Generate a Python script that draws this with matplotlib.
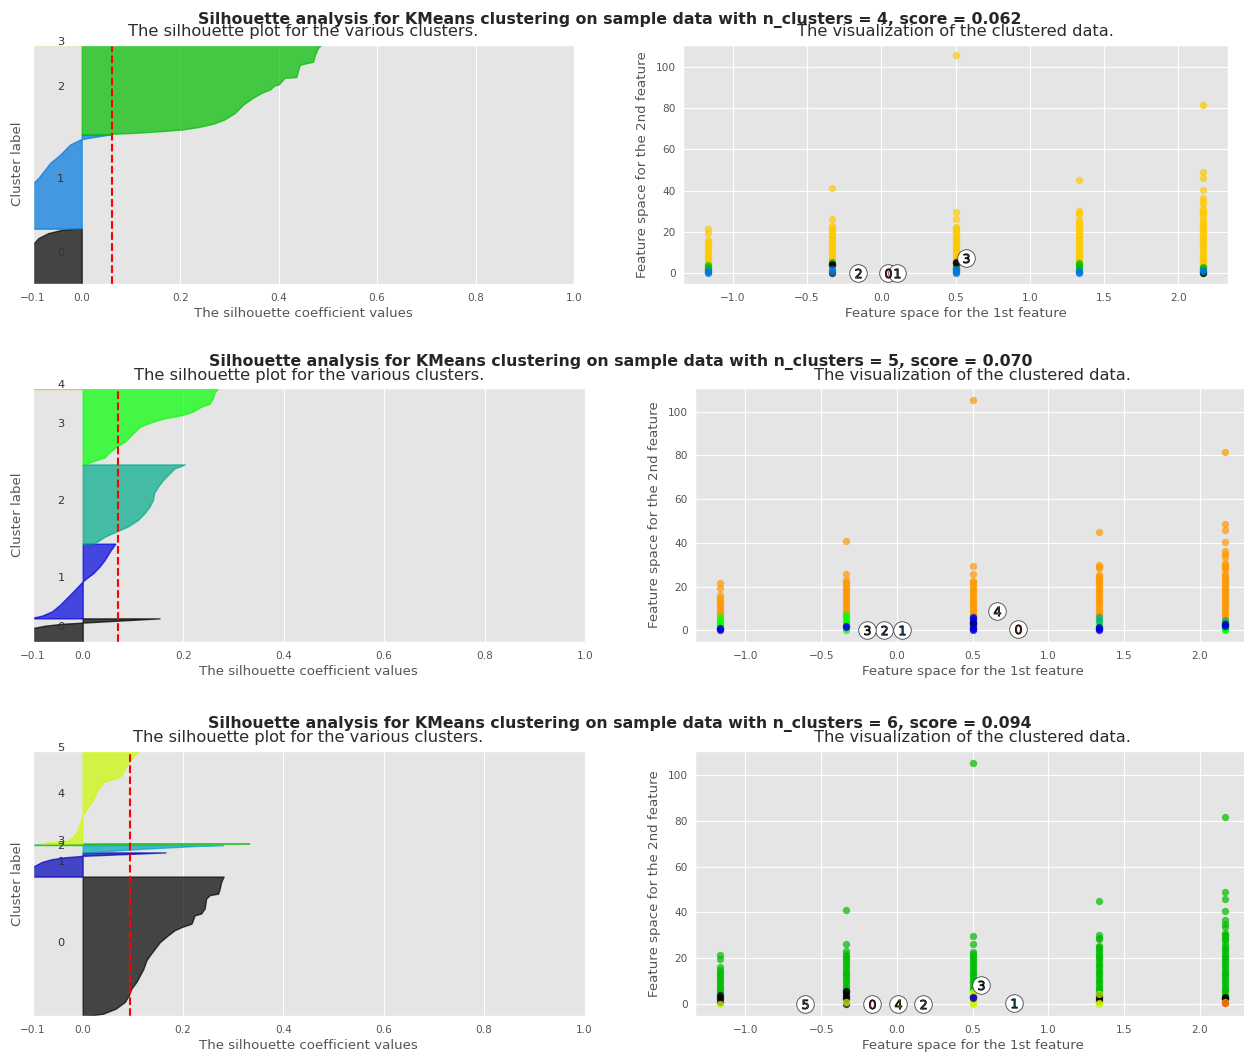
import matplotlib
matplotlib.use("Agg")
import matplotlib.pyplot as plt
from matplotlib import cm
import numpy as np

plt.style.use("ggplot")
plt.rcParams["font.family"] = ["DejaVu Sans"]

W, H = 1244, 1055

# ---------------------------------------------------------------- data
N_CLUSTERS = [4, 5, 6]
SCORES = [0.062, 0.070, 0.094]
SIL_XTICKS = [-0.1, 0, 0.2, 0.4, 0.6, 0.8, 1]
X_LEVELS = [-1.167, -0.333, 0.5, 1.333, 2.167]   # values of the 1st feature

# silhouette profiles: cluster sizes (share of samples, per mille),
# position inside the cluster (0 = bottom, 1 = top) and silhouette value
k4_sizes = [231, 393, 373, 3]
k4_rank = [
    [0, 0.71, 0.83, 0.92, 0.98, 1.0],
    [0, 0.478, 0.539, 0.70, 0.786, 0.893, 0.947, 0.964, 0.992, 1.0],
    [0, 0.008, 0.019, 0.038, 0.056, 0.083, 0.121, 0.169, 0.241, 0.335, 0.402, 0.466,
     0.504, 0.550, 0.560, 0.635, 0.643, 0.710, 0.782, 0.815, 0.895, 0.970, 1.0],
    [0, 1.0],
]
k4_sil = [
    [-0.14, -0.10, -0.088, -0.068, -0.04, -0.005],
    [-0.25, -0.10, -0.088, -0.064, -0.044, -0.024, -0.003, 0.013, 0.047, 0.057],
    [0.057, 0.061, 0.108, 0.162, 0.203, 0.236, 0.267, 0.29, 0.311, 0.328, 0.345, 0.365,
     0.382, 0.392, 0.40, 0.412, 0.436, 0.439, 0.443, 0.47, 0.474, 0.48, 0.486],
    [-0.15, -0.15],
]

k5_sizes = [93, 294, 312, 298, 3]
k5_rank = [
    [0, 0.59, 0.69, 0.77, 0.82, 1.0],
    [0, 0.01, 0.037, 0.095, 0.184, 0.34, 0.495, 0.54, 0.605, 0.697, 0.786, 0.895, 0.963, 1.0],
    [0, 0.006, 0.09, 0.154, 0.218, 0.301, 0.385, 0.468, 0.555, 0.638, 0.721, 0.804,
     0.888, 0.952, 0.981, 1.0],
    [0, 0.037, 0.094, 0.148, 0.235, 0.302, 0.389, 0.456, 0.500, 0.567, 0.611, 0.654,
     0.698, 0.765, 0.799, 0.872, 0.963, 1.0],
    [0, 1.0],
]
k5_sil = [
    [-0.15, -0.10, -0.075, -0.042, 0.0, 0.153],
    [-0.12, -0.099, -0.081, -0.061, -0.045, -0.022, 0.0, 0.008, 0.021, 0.034, 0.044,
     0.054, 0.061, 0.065],
    [0.005, 0.024, 0.044, 0.067, 0.09, 0.11, 0.123, 0.133, 0.14, 0.142, 0.15, 0.16,
     0.173, 0.183, 0.196, 0.203],
    [0.001, 0.018, 0.044, 0.051, 0.067, 0.084, 0.097, 0.107, 0.114, 0.14, 0.163, 0.199,
     0.219, 0.236, 0.252, 0.259, 0.263, 0.269],
    [-0.15, -0.15],
]

k6_sizes = [525, 91, 28, 6, 347, 3]
k6_rank = [
    [0, 0.017, 0.053, 0.101, 0.149, 0.196, 0.244, 0.291, 0.339, 0.4, 0.436, 0.484, 0.531,
     0.579, 0.615, 0.638, 0.663, 0.722, 0.735, 0.771, 0.842, 0.867, 0.878, 0.914, 0.962,
     0.987, 1.0],
    [0, 0.40, 0.61, 0.72, 0.80, 0.86, 1.0],
    [0, 0.5, 0.85, 1.0],
    [0, 0.5, 1.0],
    [0, 0.009, 0.023, 0.052, 0.124, 0.216, 0.305, 0.378, 0.452, 0.524, 0.597, 0.669,
     0.686, 0.703, 0.741, 0.813, 0.885, 0.957, 1.0],
    [0, 1.0],
]
k6_sil = [
    [0.01, 0.041, 0.066, 0.084, 0.092, 0.097, 0.107, 0.114, 0.121, 0.127, 0.134, 0.144,
     0.154, 0.170, 0.183, 0.197, 0.217, 0.223, 0.236, 0.243, 0.246, 0.253, 0.27, 0.273,
     0.276, 0.279, 0.281],
    [-0.2, -0.1, -0.081, -0.062, -0.035, 0.0, 0.165],
    [0.01, 0.12, 0.22, 0.28],
    [-0.15, 0.0, 0.332],
    [-0.08, -0.072, -0.035, -0.022, -0.012, -0.005, 0.0, 0.008, 0.018, 0.025, 0.031,
     0.043, 0.051, 0.066, 0.077, 0.084, 0.092, 0.103, 0.113],
    [0.0, 0.0],
]

# scatter: 2nd-feature values at each 1st-feature level, per cluster
k4_points = {
    3: [[21.5, 19.5, 16, 15, 14, 13, 12, 11, 10, 9, 8, 7, 6, 5],
        [41, 26, 23, 22, 21, 20, 19, 18, 17, 16, 15, 14, 13, 12, 11, 10, 9, 8, 7, 6],
        [105.5, 29.5, 26, 22.5, 22, 21, 20, 19, 18, 17, 16, 15, 14, 13, 12, 11, 10, 9, 8, 7, 6.5],
        [45, 30, 29, 28.5, 25.5, 25, 24, 23, 22, 21, 20, 19, 18, 17, 16, 15, 14, 13, 12, 11,
         10, 9, 8, 7, 6],
        [81.5, 48.8, 46, 40.5, 36.5, 35, 33.5, 31, 30, 29.5, 28.5, 28, 26, 25, 24, 23, 22, 21,
         20, 19, 18, 17, 16, 15, 14, 13, 12, 11, 10, 9, 8, 7, 6, 5, 4]],
    2: [[4, 3, 2, 1.5], [5.5], [3.5, 3, 2.5], [5, 4, 3, 2], [3, 2.5, 0.5, 0]],
    0: [[], [4.5, 4, 0], [5.5, 5], [], [0.2]],
    1: [[1, 0.5, 0], [2, 1.2], [2, 1.5, 1, 0.5, 0], [1.2, 0.5, 0], [1.5, 1]],
}
k4_centers_x = [0.045, 0.107, -0.156, 0.571]
k4_centers_y = [0, 0, 0, 7.2]

k5_points = {
    4: [[21.5, 19.5, 16, 15, 14, 13, 12, 11, 10, 9, 8, 7],
        [41, 26, 23, 22, 21, 20, 19, 18, 17, 16, 15, 14, 13, 12, 11, 10, 9, 8],
        [105.5, 29.5, 26, 22.5, 22, 21, 20, 19, 18, 17, 16, 15, 14, 13, 12, 11, 10, 9, 8, 7],
        [45, 30, 29, 28.5, 25.5, 25, 24, 23, 22, 21, 20, 19, 18, 17, 16, 15, 14, 13, 12, 11,
         10, 9, 8, 7],
        [81.5, 48.8, 46, 40.5, 36.5, 35, 33.5, 31, 30, 29.5, 28.5, 28, 26, 25, 24, 23, 22, 21,
         20, 19, 18, 17, 16, 15, 14, 13, 12, 11, 10, 9, 8, 7, 6]],
    3: [[6, 5, 4, 3, 2.5], [7, 6, 5, 4, 3, 0], [], [4, 3], [1.5, 1, 0.5, 0]],
    2: [[], [], [], [6, 5], [5, 4]],
    0: [[], [], [4, 3.5, 3], [], [3]],
    1: [[1, 0.5, 0], [2, 1.5], [6, 5.5, 5, 2, 1, 0.5, 0], [1.5, 1, 0.5, 0], [2.5, 2]],
}
k5_centers_x = [0.80, 0.037, -0.087, -0.2, 0.663]
k5_centers_y = [0.8, 0, 0, 0, 8.7]

k6_points = {
    3: [[21.5, 19.5, 16, 15, 14, 13, 12, 11, 10, 9, 8, 7, 6, 5],
        [41, 26, 23, 22, 21, 20, 19, 18, 17, 16, 15, 14, 13, 12, 11, 10, 9, 8, 7, 6],
        [105.5, 29.5, 26, 22.5, 22, 21, 20, 19, 18, 17, 16, 15, 14, 13, 12, 11, 10, 9, 8, 7, 6],
        [45, 30, 29, 28.5, 25.5, 25, 24, 23, 22, 21, 20, 19, 18, 17, 16, 15, 14, 13, 12, 11,
         10, 9, 8, 7, 6, 5],
        [81.5, 48.8, 46, 40.5, 36.5, 35, 33.5, 31, 30, 29.5, 28.5, 28, 26, 25, 24, 23, 22, 21,
         20, 19, 18, 17, 16, 15, 14, 13, 12, 11, 10, 9, 8, 7, 6, 5, 4]],
    0: [[4, 3, 2, 1], [5.5, 5, 4, 3, 2, 0], [3.5], [4, 3, 2, 1.5], [3, 2.5, 2]],
    4: [[0], [1], [5, 4.5, 2, 1, 0.5, 0], [4.5, 0.5, 0], [1, 0.5]],
    1: [[], [], [3, 2.5], [], []],
    5: [[], [], [], [], [0.3]],
}
k6_centers_x = [-0.163, 0.771, 0.174, 0.555, 0.011, -0.605]
k6_centers_y = [0, 0.4, 0, 8.1, 0, 0]

# ---------------------------------------------------------------- layout (pixels)
rows = [
    dict(n=4, sizes=k4_sizes, rank=k4_rank, sil=k4_sil, pts=k4_points,
         cx=k4_centers_x, cy=k4_centers_y,
         left=(32.5, 574, 44.5, 284), right=(683, 1228, 44.5, 284),
         sup=(610, 23.5)),
    dict(n=5, sizes=k5_sizes, rank=k5_rank, sil=k5_sil, pts=k5_points,
         cx=k5_centers_x, cy=k5_centers_y,
         left=(32.5, 585, 388, 642), right=(695, 1250, 388, 642),
         sup=(621, 365.5)),
    dict(n=6, sizes=k6_sizes, rank=k6_rank, sil=k6_sil, pts=k6_points,
         cx=k6_centers_x, cy=k6_centers_y,
         left=(32.5, 584.5, 750.5, 1016), right=(695, 1250, 750.5, 1016),
         sup=(620, 727.5)),
]

TITLE_FS = 11.7
LABEL_FS = 9.6
TICK_FS = 7.6
SUP_FS = 11.3

fig = plt.figure(figsize=(W / 100, H / 100), dpi=100)


def px_axes(box):
    x0, x1, y0, y1 = box
    return fig.add_axes([x0 / W, 1 - y1 / H, (x1 - x0) / W, (y1 - y0) / H])


for r, score in zip(rows, SCORES):
    n = r["n"]
    # ------------------------------------------------ silhouette plot
    ax1 = px_axes(r["left"])
    total = sum(r["sizes"])
    y_lower = 0
    for i in range(n):
        color = cm.nipy_spectral(float(i) / n)
        y = y_lower + np.array(r["rank"][i]) * r["sizes"][i]
        ax1.fill_betweenx(y, 0, r["sil"][i], facecolor=color, edgecolor=color,
                          alpha=0.7, linewidth=1.0)
        ax1.text(-0.05, y_lower + 0.5 * r["sizes"][i], str(i), fontsize=8.2,
                 color="#333333")
        y_lower += r["sizes"][i]
    ax1.axvline(x=score, color="red", linestyle="--", linewidth=1.5)
    ax1.set_xlim(-0.1, 1.0)
    ax1.set_ylim(0, total)
    ax1.set_yticks([])
    ax1.set_xticks(SIL_XTICKS)
    ax1.set_title("The silhouette plot for the various clusters.", fontsize=TITLE_FS,
                  color="#2b2b2b")
    ax1.set_xlabel("The silhouette coefficient values", fontsize=LABEL_FS, labelpad=3)
    ax1.set_ylabel("Cluster label", fontsize=LABEL_FS, labelpad=6)
    ax1.tick_params(length=0, pad=6.5, labelsize=TICK_FS)

    # ------------------------------------------------ scatter plot
    ax2 = px_axes(r["right"])
    for k, cols in r["pts"].items():
        xs, ys = [], []
        for j, yl in enumerate(cols):
            xs += [X_LEVELS[j]] * len(yl)
            ys += yl
        if xs:
            ax2.scatter(xs, ys, marker="o", s=28, lw=0, alpha=0.7,
                        color=cm.nipy_spectral(float(k) / n))
    ax2.scatter(r["cx"], r["cy"], marker="o", c="white", alpha=1, s=160,
                edgecolor="#444444", linewidths=0.6)
    for i, (cx, cy) in enumerate(zip(r["cx"], r["cy"])):
        ax2.scatter(cx, cy, marker="$%d$" % i, alpha=1, s=45, edgecolor="k",
                    linewidths=0.6)
    ax2.set_title("The visualization of the clustered data.", fontsize=TITLE_FS,
                  color="#2b2b2b")
    ax2.set_xlabel("Feature space for the 1st feature", fontsize=LABEL_FS, labelpad=3)
    ax2.set_ylabel("Feature space for the 2nd feature", fontsize=LABEL_FS, labelpad=5)
    ax2.tick_params(axis="x", length=0, pad=6.5, labelsize=TICK_FS)
    ax2.tick_params(axis="y", length=0, pad=5, labelsize=TICK_FS)

    sx, sy = r["sup"]
    fig.text(sx / W, 1 - sy / H,
             "Silhouette analysis for KMeans clustering on sample data with "
             "n_clusters = %d, score = %.3f" % (n, score),
             ha="center", va="baseline", fontsize=SUP_FS, fontweight="bold",
             color="#262626")

fig.savefig("out.png", dpi=100)
